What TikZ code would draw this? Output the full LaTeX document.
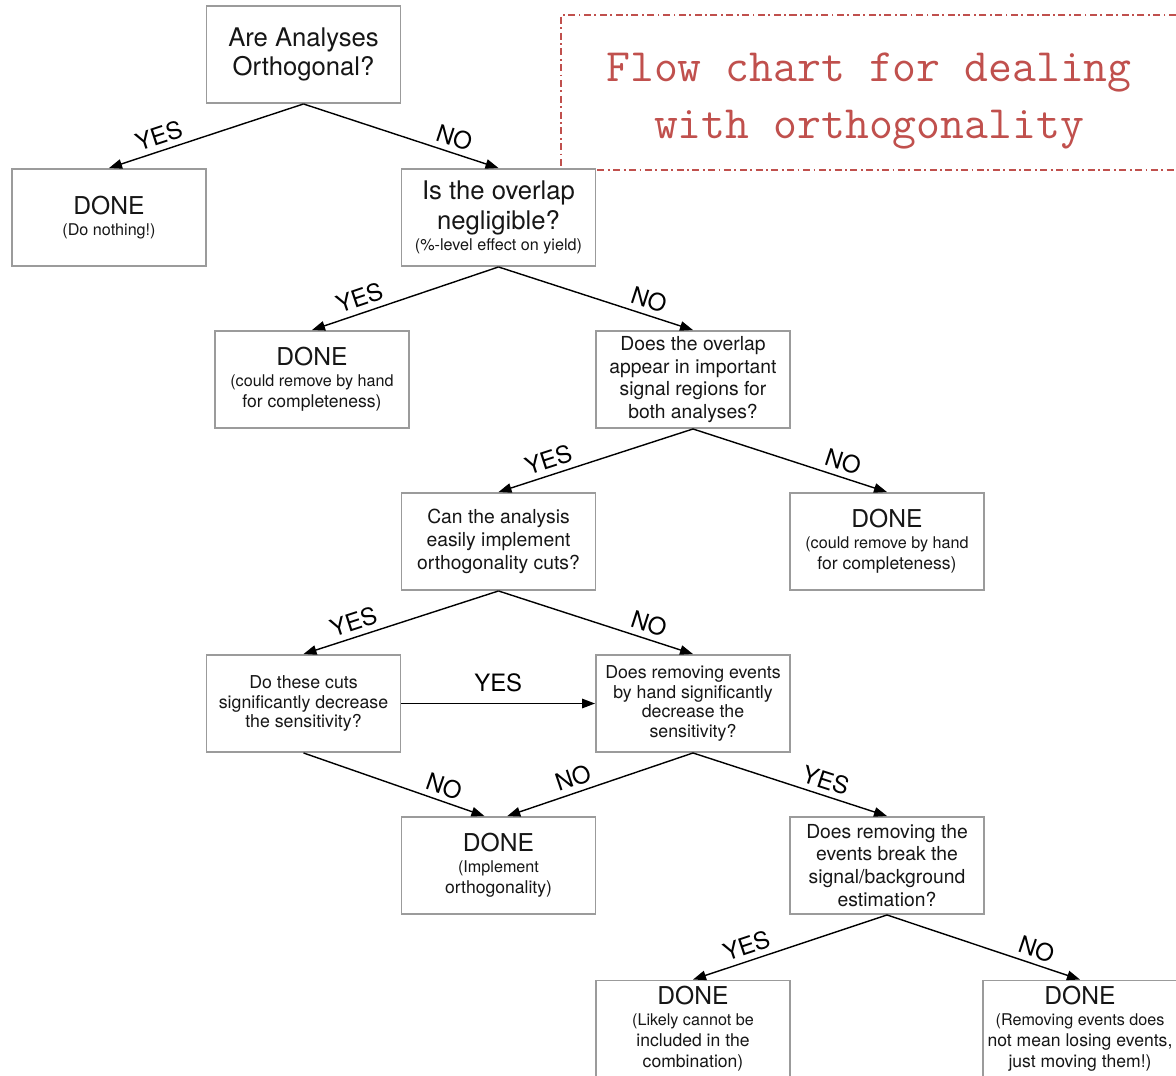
\documentclass[tikz,border=0pt]{standalone}
\usepackage{fontspec}
\setmainfont{TeX Gyre Heros}
\usetikzlibrary{arrows.meta}
\definecolor{fcgray}{RGB}{155,155,155}
\definecolor{fcink}{RGB}{22,22,22}
\definecolor{fcred}{RGB}{192,80,77}
\newcommand{\donetxt}{{\fontsize{14}{17}\selectfont DONE}}
\newcommand{\subtxt}{\fontsize{9.2}{11.3}\selectfont}

\begin{document}
\begin{tikzpicture}[x=0.02cm, y=-0.02cm,
        box/.style={draw=fcgray, line width=1.1pt, fill=white, text=fcink, minimum width=3.88cm, minimum height=1.94cm, align=center, inner sep=2pt},
        bigq/.style={font=\fontsize{14.6}{17}\selectfont},
        midq/.style={font=\fontsize{11}{13}\selectfont},
        smallq/.style={font=\fontsize{10.1}{11.3}\selectfont},
        lab/.style={sloped, above, pos=.72, inner sep=3pt, font=\fontsize{13.6}{16}\selectfont},
        flow/.style={-{Triangle[length=2.6mm, width=1.9mm]}, line width=0.8pt, draw=black},
        frame/.style={draw=fcred, line width=0.7pt, dash pattern=on 4pt off 2pt on 1pt off 2pt}
      ]
      \useasboundingbox (0,0) rectangle (1176,1075);

      % title
      \draw[frame] (1176,15) -| (561,170) -- (1176,170);
      \node[text=fcred, align=center, font=\ttfamily\fontsize{26.4}{32.3}\selectfont] (ttl) at (869,101) {Flow chart for dealing\\with orthogonality};

      % questions and outcomes
      \node[box, bigq] (q1) at (303.5,54.5) {Are Analyses\\Orthogonal?};
      \node[box] (d1) at (109,217.5) {\donetxt\\\subtxt(Do nothing!)};
      \node[box, bigq] (q2) at (498.5,217.5) {Is the overlap\\negligible?\\[-5pt]\subtxt(\%-level effect on yield)};
      \node[box] (d2) at (312,379.5) {\donetxt\\\subtxt(could remove by hand\\for completeness)};
      \node[box, midq] (q3) at (693,379.5) {Does the overlap\\appear in important\\signal regions for\\both analyses?};
      \node[box, midq] (q4) at (498.5,541.5) {Can the analysis\\easily implement\\orthogonality cuts?};
      \node[box] (d3) at (887,541.5) {\donetxt\\\subtxt(could remove by hand\\for completeness)};
      \node[box, smallq] (q5) at (303.5,703.5) {Do these cuts\\significantly decrease\\the sensitivity?};
      \node[box, smallq] (q6) at (693,703.5) {Does removing events\\by hand significantly\\decrease the\\sensitivity?};
      \node[box] (d4) at (498.5,865.5) {\donetxt\\\subtxt(Implement\\orthogonality)};
      \node[box, midq] (q7) at (887,865.5) {Does removing the\\events break the\\signal/background\\estimation?};
      \node[box] (d5) at (693,1029) {\donetxt\\\subtxt(Likely cannot be\\included in the\\combination)};
      \node[box] (d6) at (1080,1029) {\donetxt\\\subtxt(Removing events does\\not mean losing events,\\just moving them!)};

      % connectors
      \draw[flow] (q1.south) -- node[lab] {YES} (d1.north);
      \draw[flow] (q1.south) -- node[lab, pos=.75] {NO} (q2.north);
      \draw[flow] (q2.south) -- node[lab] {YES} (d2.north);
      \draw[flow] (q2.south) -- node[lab, pos=.75] {NO} (q3.north);
      \draw[flow] (q3.south) -- node[lab] {YES} (q4.north);
      \draw[flow] (q3.south) -- node[lab, pos=.75] {NO} (d3.north);
      \draw[flow] (q4.south) -- node[lab] {YES} (q5.north);
      \draw[flow] (q4.south) -- node[lab, pos=.75] {NO} (q6.north);
      \draw[flow] (q5.east) -- node[lab, pos=.5, inner sep=6pt] {YES} (q6.west);
      \draw[flow] (q5.south) -- node[lab, pos=.75] {NO} ([xshift=-8]d4.north);
      \draw[flow] (q6.south) -- node[lab, pos=.62] {NO} ([xshift=5]d4.north);
      \draw[flow] (q6.south) -- node[lab, pos=.66] {YES} (q7.north);
      \draw[flow] (q7.south) -- node[lab, pos=.7] {YES} (d5.north);
      \draw[flow] (q7.south) -- node[lab, pos=.75] {NO} (d6.north);
    \end{tikzpicture}
\end{document}
